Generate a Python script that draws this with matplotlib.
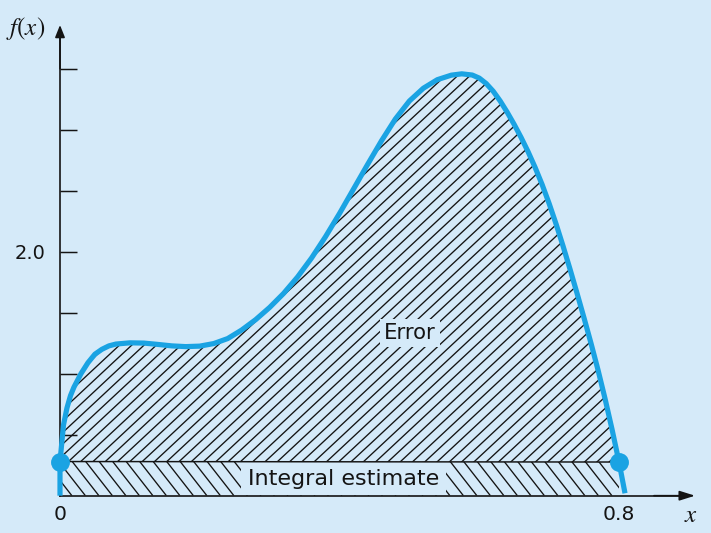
import numpy as np
import matplotlib
matplotlib.use("Agg")
import matplotlib.pyplot as plt
from matplotlib.collections import LineCollection

# ---- data ----
curve_x = [0.0, 0.0, 0.005, 0.01, 0.015, 0.02, 0.03, 0.04, 0.05, 0.06, 0.07, 0.08,
           0.10, 0.12, 0.14, 0.16, 0.18, 0.20, 0.22, 0.24, 0.26, 0.28, 0.30, 0.32,
           0.34, 0.36, 0.38, 0.40, 0.42, 0.44, 0.46, 0.48, 0.50, 0.52, 0.54, 0.56,
           0.575, 0.59, 0.60, 0.61, 0.62, 0.63, 0.64, 0.65, 0.66, 0.67, 0.68, 0.69,
           0.70, 0.71, 0.72, 0.73, 0.74, 0.75, 0.76, 0.77, 0.78, 0.79, 0.80, 0.8086]
curve_y = [0.0, 0.28, 0.58, 0.72, 0.82, 0.89, 1.00, 1.09, 1.16, 1.20, 1.228, 1.243,
           1.253, 1.251, 1.240, 1.228, 1.222, 1.226, 1.247, 1.288, 1.358, 1.443, 1.543, 1.658,
           1.793, 1.948, 2.123, 2.313, 2.513, 2.713, 2.908, 3.088, 3.235, 3.34, 3.41, 3.447,
           3.458, 3.448, 3.423, 3.378, 3.315, 3.235, 3.143, 3.043, 2.935, 2.818, 2.690, 2.550,
           2.395, 2.226, 2.045, 1.855, 1.658, 1.456, 1.248, 1.030, 0.796, 0.545, 0.276, 0.02]
ends_x = [0.0, 0.8]
ends_y = [0.28, 0.276]
y_ticks = [0.5, 1.0, 1.5, 2.0, 2.5, 3.0, 3.5]
y_tick_labels = ["", "", "", "2.0", "", "", ""]
x_ticks = [0.0, 0.8]
x_tick_labels = ["0", "0.8"]
error_label = "Error"
estimate_label = "Integral estimate"

BG = "#d5eaf9"
BLUE = "#1aa3e3"
INK = "#141414"

plt.rcParams["mathtext.fontset"] = "stix"
plt.rcParams["font.family"] = ["DejaVu Sans"]

DPI = 400 / 3
fig = plt.figure(figsize=(711 / DPI, 533 / DPI), dpi=DPI, facecolor=BG)
ax = fig.add_axes([0, 0, 1, 1])
ax.set_facecolor(BG)

px_per_x = 698.75
px_per_y = 122.0
x0_px, y0_px = 60.0, 495.7
ax.set_xlim(-x0_px / px_per_x, (711 - x0_px) / px_per_x)
ax.set_ylim((y0_px - 533) / px_per_y, y0_px / px_per_y)

cx = np.array(curve_x)
cy = np.array(curve_y)


def hatch(patch, angle_deg, spacing_px, xlo, xhi, yhi, phase=0.0):
    """Parallel hatch lines (pixel angle / horizontal pixel spacing) clipped to patch."""
    slope = np.tan(np.radians(angle_deg)) * px_per_x / px_per_y  # data slope
    dx = spacing_px / px_per_x
    span = yhi / abs(slope)
    starts = np.arange(xlo - span - dx + phase, xhi + span + dx, dx)
    segs = [[(c, 0.0), (c + yhi / slope, yhi)] for c in starts]
    lc = LineCollection(segs, colors=INK, linewidths=0.72, zorder=2)
    ax.add_collection(lc)
    lc.set_clip_path(patch)


# Error region: between curve and the trapezoid top
err_patch = ax.fill(cx[1:-1], cy[1:-1], facecolor="none", edgecolor="none", lw=0)[0]
hatch(err_patch, 43, 12.3, 0, 0.8, 3.6)
# Trapezoid (integral estimate)
trap_patch = ax.fill([ends_x[0], ends_x[0], ends_x[1], ends_x[1]],
                     [0, ends_y[0], ends_y[1], 0],
                     facecolor="none", edgecolor="none", lw=0)[0]
hatch(trap_patch, -52, 13.5, 0, 0.8, 0.3)

# labels with background boxes
ax.text(0.501, 1.334, error_label, fontsize=11.5, ha="center", va="center", color=INK,
        bbox=dict(facecolor=BG, edgecolor="none", boxstyle="square,pad=0.2"), zorder=3)
ax.text(0.406, 0.14, estimate_label, fontsize=12,
        ha="center", va="center", color=INK,
        bbox=dict(facecolor=BG, edgecolor="none", boxstyle="square,pad=0.3"), zorder=3)

# trapezoid top line
ax.plot(ends_x, ends_y, color=INK, lw=0.8, zorder=4)

# curve and end points
ax.plot(cx, cy, color=BLUE, lw=2.8, solid_capstyle="butt", solid_joinstyle="round", zorder=5)
ax.plot(ends_x, ends_y, "o", color=BLUE, ms=10.2, mec="none", zorder=6)

# axes (spines at data zero)
for s in ["top", "right"]:
    ax.spines[s].set_visible(False)
ax.spines["left"].set_position(("data", 0))
ax.spines["bottom"].set_position(("data", 0))
ax.spines["left"].set_bounds(0, 3.80)
ax.spines["bottom"].set_bounds(0, 0.90)
for s in ["left", "bottom"]:
    ax.spines[s].set_color(INK)
    ax.spines[s].set_linewidth(0.9)
    ax.spines[s].set_zorder(4)

ax.set_yticks(y_ticks)
ax.set_yticklabels(y_tick_labels)
ax.tick_params(axis="y", direction="in", length=9.2, width=0.8, color=INK,
               labelsize=10.5, pad=7.6, labelcolor=INK)
ax.set_xticks(x_ticks)
ax.set_xticklabels(x_tick_labels)
ax.tick_params(axis="x", length=0, labelsize=11, pad=5.0, labelcolor=INK)

# arrow heads
ax.annotate("", xy=(0, 3.858), xytext=(0, 3.5),
            arrowprops=dict(arrowstyle="-|>,head_length=0.55,head_width=0.22",
                            lw=0.9, color=INK, shrinkA=0, shrinkB=0), zorder=4)
ax.annotate("", xy=(0.9088, 0), xytext=(0.85, 0),
            arrowprops=dict(arrowstyle="-|>,head_length=0.7,head_width=0.22",
                            lw=0.9, color=INK, shrinkA=0, shrinkB=0), zorder=4)

# axis titles
ax.text(-34 / px_per_x, (y0_px - 29) / px_per_y, r"$f(x)$", fontsize=13.5,
        ha="center", va="center", color=INK)
ax.text((691 - x0_px) / px_per_x, (y0_px - 515) / px_per_y, r"$x$", fontsize=13.5,
        ha="center", va="center", color=INK)

fig.savefig("out.png", dpi=DPI, facecolor=BG)
